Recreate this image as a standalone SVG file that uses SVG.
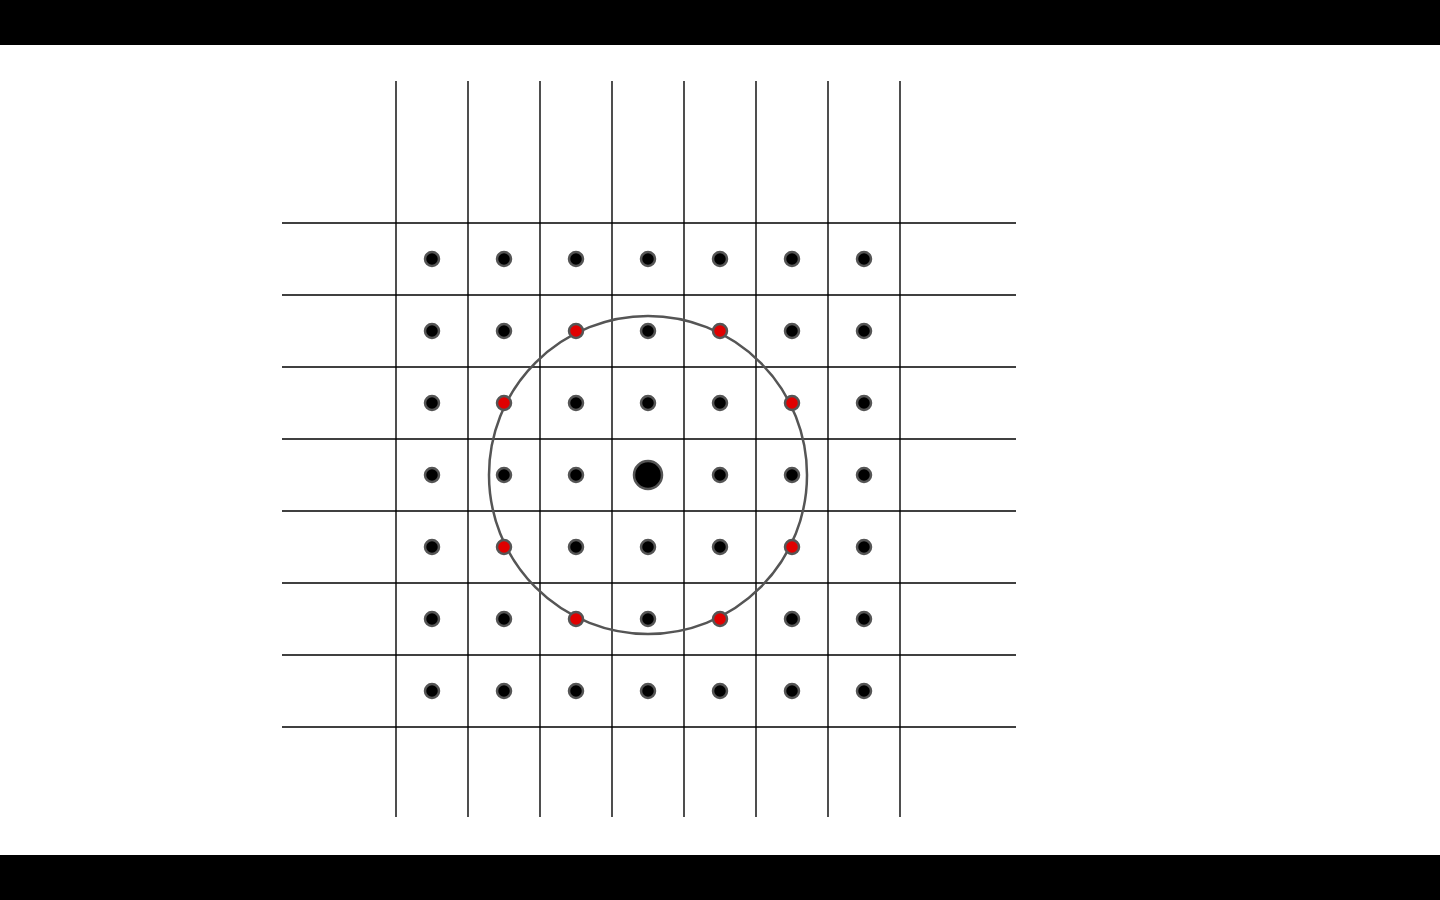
<svg xmlns="http://www.w3.org/2000/svg" width="1440" height="900" viewBox="0 0 1440 900">
<style>
.bar{fill:#000}
.v{stroke:#222;stroke-width:1.6}
.h{stroke:#000;stroke-width:1.6}
.d{fill:#000;stroke:#555;stroke-width:2.5}
.r{fill:#e00000;stroke:#555;stroke-width:2.5}
.c{fill:none;stroke:#555;stroke-width:2.5}
</style>
<rect width="1440" height="900" fill="#fff"/>
<rect class="bar" x="0" y="0" width="1440" height="45"/>
<rect class="bar" x="0" y="855" width="1440" height="45"/>
<g id="grid">
<line class="v" x1="396" y1="81" x2="396" y2="817"/>
<line class="v" x1="468" y1="81" x2="468" y2="817"/>
<line class="v" x1="540" y1="81" x2="540" y2="817"/>
<line class="v" x1="612" y1="81" x2="612" y2="817"/>
<line class="v" x1="684" y1="81" x2="684" y2="817"/>
<line class="v" x1="756" y1="81" x2="756" y2="817"/>
<line class="v" x1="828" y1="81" x2="828" y2="817"/>
<line class="v" x1="900" y1="81" x2="900" y2="817"/>
<line class="h" x1="282" y1="223" x2="1016" y2="223"/>
<line class="h" x1="282" y1="295" x2="1016" y2="295"/>
<line class="h" x1="282" y1="367" x2="1016" y2="367"/>
<line class="h" x1="282" y1="439" x2="1016" y2="439"/>
<line class="h" x1="282" y1="511" x2="1016" y2="511"/>
<line class="h" x1="282" y1="583" x2="1016" y2="583"/>
<line class="h" x1="282" y1="655" x2="1016" y2="655"/>
<line class="h" x1="282" y1="727" x2="1016" y2="727"/>
</g>
<circle id="ring" class="c" cx="648" cy="475" r="159"/>
<g id="dots">
<circle class="d" cx="432" cy="259" r="7"/><circle class="d" cx="504" cy="259" r="7"/><circle class="d" cx="576" cy="259" r="7"/><circle class="d" cx="648" cy="259" r="7"/><circle class="d" cx="720" cy="259" r="7"/><circle class="d" cx="792" cy="259" r="7"/><circle class="d" cx="864" cy="259" r="7"/>
<circle class="d" cx="432" cy="331" r="7"/><circle class="d" cx="504" cy="331" r="7"/><circle class="r" cx="576" cy="331" r="7"/><circle class="d" cx="648" cy="331" r="7"/><circle class="r" cx="720" cy="331" r="7"/><circle class="d" cx="792" cy="331" r="7"/><circle class="d" cx="864" cy="331" r="7"/>
<circle class="d" cx="432" cy="403" r="7"/><circle class="r" cx="504" cy="403" r="7"/><circle class="d" cx="576" cy="403" r="7"/><circle class="d" cx="648" cy="403" r="7"/><circle class="d" cx="720" cy="403" r="7"/><circle class="r" cx="792" cy="403" r="7"/><circle class="d" cx="864" cy="403" r="7"/>
<circle class="d" cx="432" cy="475" r="7"/><circle class="d" cx="504" cy="475" r="7"/><circle class="d" cx="576" cy="475" r="7"/><circle class="d" cx="648" cy="475" r="14"/><circle class="d" cx="720" cy="475" r="7"/><circle class="d" cx="792" cy="475" r="7"/><circle class="d" cx="864" cy="475" r="7"/>
<circle class="d" cx="432" cy="547" r="7"/><circle class="r" cx="504" cy="547" r="7"/><circle class="d" cx="576" cy="547" r="7"/><circle class="d" cx="648" cy="547" r="7"/><circle class="d" cx="720" cy="547" r="7"/><circle class="r" cx="792" cy="547" r="7"/><circle class="d" cx="864" cy="547" r="7"/>
<circle class="d" cx="432" cy="619" r="7"/><circle class="d" cx="504" cy="619" r="7"/><circle class="r" cx="576" cy="619" r="7"/><circle class="d" cx="648" cy="619" r="7"/><circle class="r" cx="720" cy="619" r="7"/><circle class="d" cx="792" cy="619" r="7"/><circle class="d" cx="864" cy="619" r="7"/>
<circle class="d" cx="432" cy="691" r="7"/><circle class="d" cx="504" cy="691" r="7"/><circle class="d" cx="576" cy="691" r="7"/><circle class="d" cx="648" cy="691" r="7"/><circle class="d" cx="720" cy="691" r="7"/><circle class="d" cx="792" cy="691" r="7"/><circle class="d" cx="864" cy="691" r="7"/>
</g>
</svg>
